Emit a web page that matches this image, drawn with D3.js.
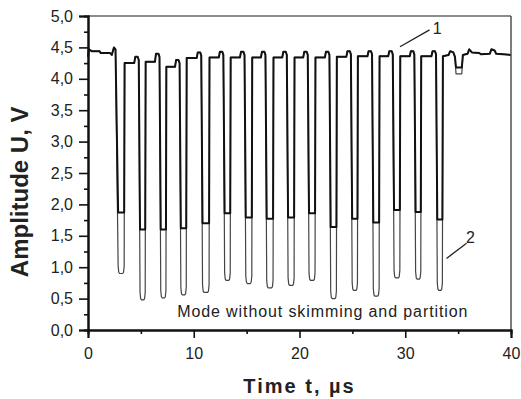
<!DOCTYPE html>
<html>
<head>
<meta charset="utf-8">
<script src="https://cdn.jsdelivr.net/npm/d3@7"></script>
<style>
  body { margin: 0; background: #fff; }
  svg { display: block; font-family: "Liberation Sans", Arial, sans-serif; }
</style>
</head>
<body>
<div class="chart"></div>
<script>
(function() {

  var W = 521, H = 399;
  var margin = {top: 16, right: 10, bottom: 69, left: 88};
  var width = W - margin.left - margin.right;
  var height = H - margin.top - margin.bottom;

  // pulse edges (us) and levels (V)
  var pulseStart = [2.85, 4.92, 6.88, 8.78, 10.83, 12.92, 14.92, 16.90, 18.92, 20.90, 22.95, 24.98, 26.98, 28.94, 30.98, 33.03];
  var pulseEnd   = [3.42, 5.41, 7.37, 9.29, 11.45, 13.45, 15.49, 17.50, 19.49, 21.47, 23.49, 25.48, 27.53, 29.49, 31.47, 33.51];
  var floor1     = [1.87, 1.60, 1.60, 1.62, 1.70, 1.86, 1.79, 1.77, 1.79, 1.86, 1.64, 1.77, 1.71, 1.91, 1.88, 1.76];
  var bottom2    = [0.90, 0.48, 0.51, 0.56, 0.60, 0.79, 0.74, 0.67, 0.71, 0.79, 0.50, 0.63, 0.54, 0.83, 0.81, 0.63];
  // level between pulses: right after the rise, and the peak before the next fall
  var shoulder   = [4.25, 4.27, 4.19, 4.33, 4.34, 4.34, 4.34, 4.34, 4.34, 4.34, 4.35, 4.36, 4.36, 4.36, 4.36];
  var peak       = [4.35, 4.40, 4.30, 4.42, 4.43, 4.43, 4.43, 4.43, 4.43, 4.43, 4.44, 4.44, 4.44, 4.44, 4.44];

  // before the first pulse
  var leadT = [0, 0.08, 0.35, 1.10, 1.20, 2.10, 2.25, 2.45, 2.60];
  var leadV = [4.35, 4.47, 4.44, 4.44, 4.41, 4.41, 4.38, 4.50, 4.47];
  // after the last pulse
  var tailT  = [33.56, 34.10, 34.25, 34.55, 34.70, 34.80, 35.35, 35.45, 35.90, 36.05, 36.30, 37.00, 37.15, 38.00, 38.15, 38.45, 38.60, 40.0];
  var tailV1 = [4.36, 4.38, 4.44, 4.42, 4.35, 4.18, 4.18, 4.38, 4.40, 4.47, 4.42, 4.41, 4.39, 4.40, 4.47, 4.45, 4.40, 4.38];
  var tailV2 = [4.36, 4.38, 4.44, 4.42, 4.35, 4.08, 4.08, 4.38, 4.40, 4.47, 4.42, 4.41, 4.39, 4.40, 4.47, 4.45, 4.40, 4.38];

  var yTicks = [0, 0.5, 1, 1.5, 2, 2.5, 3, 3.5, 4, 4.5, 5];
  var yMinor = [0.25, 0.75, 1.25, 1.75, 2.25, 2.75, 3.25, 3.75, 4.25, 4.75];
  var xTicks = [0, 10, 20, 30, 40];
  var xMinor = [5, 15, 25, 35];

  var svg = d3.select('.chart')
              .append('svg')
              .attr('width', W)
              .attr('height', H);

  var canvas = svg.append('g')
                  .attr('transform', 'translate(' + margin.left + ',' + margin.top + ')');

  var x = d3.scaleLinear().domain([0, 40]).range([0, width]);
  var y = d3.scaleLinear().domain([0, 5]).range([height, 0]);

  // build the two traces from the read values
  function trace(deep) {
    var pts = [];
    leadT.forEach(function(t, i) { pts.push([t, leadV[i]]); });
    pulseStart.forEach(function(s, i) {
      var e = pulseEnd[i];
      if (deep) {
        var b = bottom2[i];
        pts.push([s, b + 0.12], [s + 0.06, b + 0.02], [s + 0.14, b], [e - 0.14, b], [e - 0.06, b + 0.02], [e, b + 0.12]);
      } else {
        pts.push([s, floor1[i]], [e, floor1[i]]);
      }
      if (i < pulseStart.length - 1) {
        var n = pulseStart[i + 1];
        pts.push([e + 0.04, shoulder[i]], [n - 0.55, shoulder[i]], [n - 0.45, peak[i]],
                 [n - 0.22, peak[i]], [n - 0.12, peak[i] - 0.05]);
      }
    });
    var tv = deep ? tailV2 : tailV1;
    tailT.forEach(function(t, i) { pts.push([t, tv[i]]); });
    return pts;
  }

  var line = d3.line()
               .x(function(d) { return x(d[0]); })
               .y(function(d) { return y(d[1]); });

  canvas.append('path')
        .attr('d', line(trace(true)))
        .attr('fill', 'none')
        .attr('stroke', '#444')
        .attr('stroke-width', 1.2)
        .attr('stroke-linejoin', 'round');

  canvas.append('path')
        .attr('d', line(trace(false)))
        .attr('fill', 'none')
        .attr('stroke', '#111')
        .attr('stroke-width', 2)
        .attr('stroke-linejoin', 'round');

  // frame
  canvas.append('line')
        .attr('x1', 0).attr('x2', width)
        .attr('y1', 0).attr('y2', 0)
        .attr('stroke', '#666').attr('stroke-width', 1.4);
  canvas.append('line')
        .attr('x1', width).attr('x2', width)
        .attr('y1', 0).attr('y2', height)
        .attr('stroke', '#444').attr('stroke-width', 1.4);

  // axes
  var fmt = function(d) { return d3.format('.1f')(d).replace('.', ','); };

  canvas.append('g')
        .attr('class', 'y-minor')
        .call(d3.axisLeft(y).tickValues(yMinor).tickSize(4).tickFormat(''));

  canvas.append('g')
        .attr('class', 'y-axis')
        .call(d3.axisLeft(y).tickValues(yTicks).tickSize(9).tickPadding(6).tickFormat(fmt));

  canvas.append('g')
        .attr('class', 'x-minor')
        .attr('transform', 'translate(0,' + height + ')')
        .call(d3.axisBottom(x).tickValues(xMinor).tickSize(4).tickFormat(''));

  canvas.append('g')
        .attr('class', 'x-axis')
        .attr('transform', 'translate(0,' + height + ')')
        .call(d3.axisBottom(x).tickValues(xTicks).tickSize(8).tickPadding(10).tickFormat(d3.format('d')));

  svg.selectAll('.domain')
     .attr('stroke', '#111')
     .attr('stroke-width', 2);
  svg.selectAll('.tick line')
     .attr('stroke', '#111')
     .attr('stroke-width', 1.6);
  svg.selectAll('.y-axis text, .x-axis text')
     .attr('font-size', '16px')
     .attr('fill', '#222')
     .attr('font-family', '"Liberation Sans", Arial, sans-serif');

  // axis titles
  svg.append('text')
     .text('Amplitude U, V')
     .attr('font-size', '24px')
     .attr('font-weight', 'bold')
     .attr('fill', '#222')
     .attr('text-anchor', 'middle')
     .attr('transform', 'translate(28,' + (margin.top + y(2.2)) + ') rotate(-90)');

  svg.append('text')
     .text('Time t, \u00b5s')
     .attr('font-size', '20px')
     .attr('font-weight', 'bold')
     .attr('letter-spacing', '2px')
     .attr('fill', '#222')
     .attr('text-anchor', 'middle')
     .attr('x', margin.left + x(20))
     .attr('y', 393);

  // annotations
  canvas.append('text')
        .text('Mode without skimming and partition')
        .attr('font-size', '16px')
        .attr('letter-spacing', '0.9px')
        .attr('fill', '#222')
        .attr('text-anchor', 'middle')
        .attr('x', x(22.2))
        .attr('y', y(0.21));

  canvas.append('line')
        .attr('x1', x(29.5)).attr('y1', y(4.51))
        .attr('x2', x(32.3)).attr('y2', y(4.78))
        .attr('stroke', '#222').attr('stroke-width', 1.3);
  canvas.append('text')
        .text('1')
        .attr('font-size', '16px')
        .attr('fill', '#222')
        .attr('x', x(32.6))
        .attr('y', y(4.72));

  canvas.append('line')
        .attr('x1', x(33.9)).attr('y1', y(1.14))
        .attr('x2', x(35.8)).attr('y2', y(1.38))
        .attr('stroke', '#222').attr('stroke-width', 1.3);
  canvas.append('text')
        .text('2')
        .attr('font-size', '16px')
        .attr('fill', '#222')
        .attr('x', x(35.75))
        .attr('y', y(1.38));

}());
</script>
</body>
</html>
